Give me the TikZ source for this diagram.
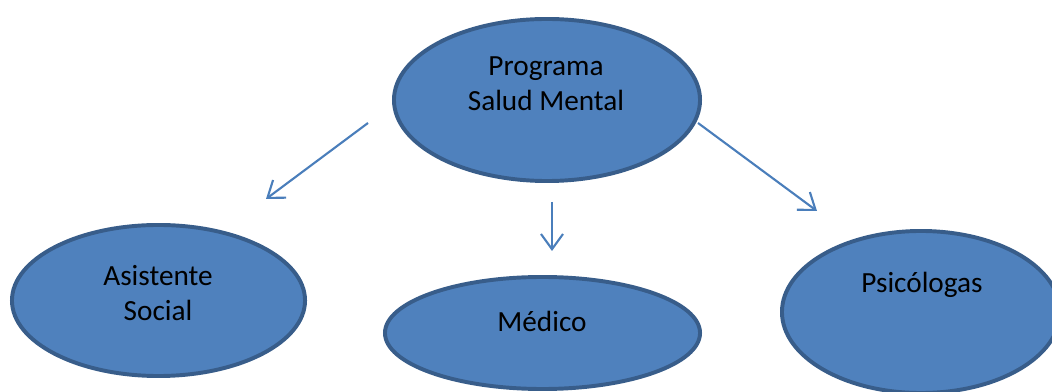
\documentclass[tikz,border=0pt]{standalone}
\usepackage{fontspec}
\setmainfont{Carlito}
\usetikzlibrary{arrows.meta,calc,positioning,shapes}

\definecolor{fillblue}{HTML}{4F81BD}
\definecolor{edgeblue}{HTML}{385D8A}
\definecolor{arrowblue}{HTML}{4A7EBB}

\begin{document}
\begin{tikzpicture}[x=0.025cm,y=-0.025cm,
    every node/.style={font=\fontsize{20.8}{25}\selectfont,align=center},
    bubble/.style={ellipse,draw=edgeblue,fill=fillblue,line width=2.8pt,inner sep=0pt},
    link/.style={arrowblue,line width=1.5pt,-{Straight Barb[length=0.38cm,width=0.55cm]}}]

    \path[use as bounding box,clip] (0,0) rectangle (1052,392);

    \node[bubble,minimum width=7.65cm,minimum height=4.05cm] (PROGRAMA) at (547,100) {};
    \node[bubble,minimum width=7.325cm,minimum height=3.775cm] (ASISTENTE) at (158.5,300.5) {};
    \node[bubble,minimum width=7.875cm,minimum height=2.8cm] (MEDICO) at (542.5,333) {};
    \node[bubble,minimum width=6.95cm,minimum height=4.05cm] (PSICO) at (921,312) {};

    \node (PROGRAMAtxt) at (546,84) {Programa\\Salud Mental};
    \node (ASISTENTEtxt) at (158,293) {Asistente\\Social};
    \node (MEDICOtxt) at (542,321) {Médico};
    \node (PSICOtxt) at (922,285) {Psicólogas};

    \coordinate (FROMleft) at (368,123);
    \coordinate (TOleft) at (266,199);
    \coordinate (FROMmid) at (552,202);
    \coordinate (TOmid) at (552,251);
    \coordinate (FROMright) at (698,123);
    \coordinate (TOright) at (817,211);

    \draw[link] (FROMleft) -- (TOleft);
    \draw[link] (FROMmid) -- (TOmid);
    \draw[link] (FROMright) -- (TOright);
  \end{tikzpicture}
\end{document}
